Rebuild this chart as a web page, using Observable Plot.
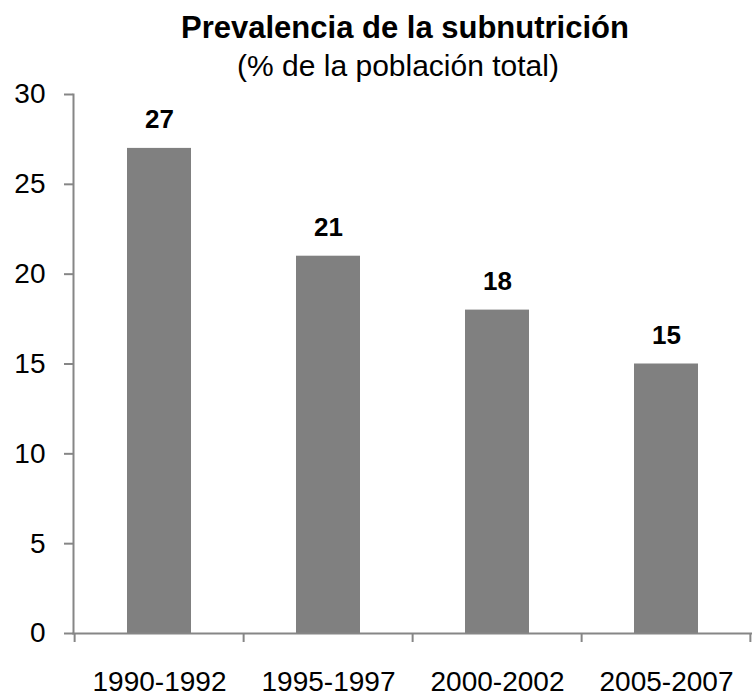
<!DOCTYPE html>
<html>
<head>
<meta charset="utf-8">
<script src="https://cdn.jsdelivr.net/npm/d3@7"></script>
<script src="https://cdn.jsdelivr.net/npm/@observablehq/plot@0.6"></script>
<style>
  body { margin: 0; background: #fff; font-family: "Liberation Sans", Arial, sans-serif; }
  #wrap { position: relative; width: 752px; height: 696px; }
  .t { position: absolute; left: 0; text-align: center; color: #000; white-space: nowrap; line-height: 1; z-index: 2; }
  #title { top: 12px; width: 810px; font-size: 31px; font-weight: bold; }
  #subtitle { top: 51px; width: 796px; font-size: 30px; }
  svg { position: absolute; left: 0; top: 0; z-index: 1; overflow: visible; }
</style>
</head>
<body>
<div id="wrap">
  <div class="t" id="title">Prevalencia de la subnutrición</div>
  <div class="t" id="subtitle">(% de la población total)</div>
</div>
<script>
const periods = ["1990-1992", "1995-1997", "2000-2002", "2005-2007"];
const values = [27, 21, 18, 15];
const yTicks = [0, 5, 10, 15, 20, 25, 30];

const data = periods.map((p, i) => ({period: p, value: values[i]}));

const W = 752, H = 696, mL = 73, mR = 0;
const step = (W - mL - mR) / periods.length;
const axisColor = "#868686";

const chart = Plot.plot({
  width: W,
  height: H,
  marginLeft: mL,
  marginRight: mR,
  marginTop: 94,
  marginBottom: 63,
  style: {fontFamily: "'Liberation Sans', Arial, sans-serif", background: "transparent", color: "#000", overflow: "visible"},
  x: {domain: periods, paddingInner: 0.62, paddingOuter: 0.31, label: null},
  y: {domain: [0, 30], label: null},
  marks: [
    Plot.barY(data, {x: "period", y: "value", fill: "#808080"}),
    Plot.frame({anchor: "left", stroke: axisColor, strokeWidth: 2}),
    Plot.frame({anchor: "bottom", stroke: axisColor, strokeWidth: 2}),
    Plot.ruleX(periods, {x: d => d, dx: -step / 2, y1: 0, y2: -0.5, stroke: axisColor, strokeWidth: 2}),
    Plot.ruleX(periods.slice(-1), {x: d => d, dx: step / 2 - 1, y1: 0, y2: -0.5, stroke: axisColor, strokeWidth: 2}),
    Plot.axisY({ticks: yTicks, tickSize: 9, tickPadding: 19, fontSize: 28, stroke: axisColor, strokeWidth: 2, strokeOpacity: 1, fill: "#000", label: null}),
    Plot.axisX({tickSize: 0, tickPadding: 38, fontSize: 28, fill: "#000", label: null}),
    Plot.text(data, {x: "period", y: "value", text: d => String(d.value), lineAnchor: "bottom", dy: -20, fontSize: 26, fontWeight: "bold", fill: "#000"})
  ]
});
document.getElementById("wrap").appendChild(chart);
</script>
</body>
</html>
